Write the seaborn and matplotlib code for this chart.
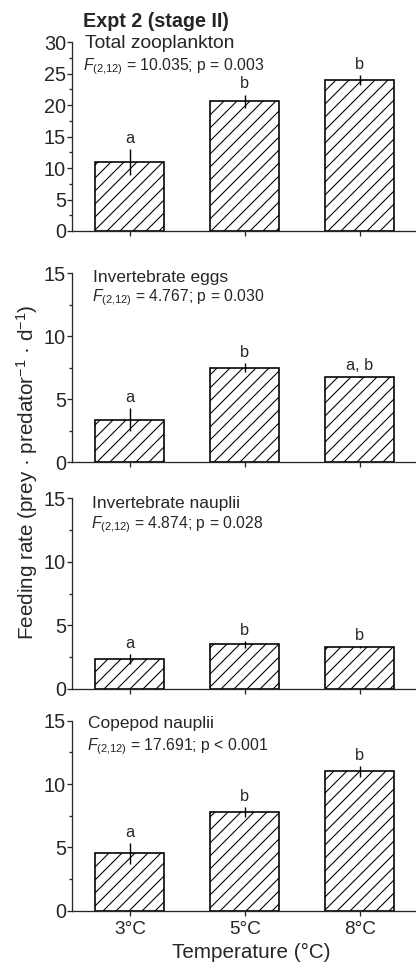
import numpy as np
import pandas as pd
import matplotlib
matplotlib.use("Agg")
import matplotlib.pyplot as plt
from matplotlib.ticker import MultipleLocator
import seaborn as sns

# ---------------- data ----------------
temps = ["3°C", "5°C", "8°C"]

total_mean = [11.0, 20.6, 24.0]
total_se = [2.1, 1.1, 0.8]
total_letters = ["a", "b", "b"]

eggs_mean = [3.36, 7.5, 6.78]
eggs_se = [0.92, 0.35, 0.05]
eggs_letters = ["a", "b", "a, b"]

invnaup_mean = [2.36, 3.52, 3.28]
invnaup_se = [0.38, 0.27, 0.08]
invnaup_letters = ["a", "b", "b"]

copnaup_mean = [4.53, 7.79, 11.0]
copnaup_se = [0.84, 0.42, 0.42]
copnaup_letters = ["a", "b", "b"]

panel_names = ["Total zooplankton", "Invertebrate eggs", "Invertebrate nauplii", "Copepod nauplii"]
f_values = ["10.035", "4.767", "4.874", "17.691"]
p_texts = ["p = 0.003", "p = 0.030", "p = 0.028", "p < 0.001"]
ymaxes = [30, 15, 15, 15]

# ---------------- style ----------------
sns.set_style("ticks")
plt.rcParams["font.family"] = ["Liberation Sans", "DejaVu Sans"]
plt.rcParams["mathtext.fontset"] = "custom"
plt.rcParams["mathtext.rm"] = "Liberation Sans"
plt.rcParams["mathtext.it"] = "Liberation Sans:italic"
plt.rcParams["hatch.linewidth"] = 0.5
plt.rcParams["hatch.color"] = "black"

W, H = 416, 963
DPI = 156
fig = plt.figure(figsize=(W / DPI, H / DPI), dpi=DPI)
fig.patch.set_facecolor("white")


def fx(x):
    return x / W


def fy(y):
    return 1 - y / H


# axes boxes (pixel top, pixel bottom)
boxes = [(42.3, 231.0), (273.3, 462.0), (498.3, 689.0), (720.7, 910.7)]
left_px = 72.0

means = [total_mean, eggs_mean, invnaup_mean, copnaup_mean]
ses = [total_se, eggs_se, invnaup_se, copnaup_se]
letters = [total_letters, eggs_letters, invnaup_letters, copnaup_letters]

label_pos = [(85, 48.3, 8.9), (93.3, 281.7, 8.0), (91.7, 508.3, 8.0), (88.3, 727.7, 8.0)]
f_pos = [(83, 70.7), (91.7, 301), (90.7, 528.3), (87.3, 750)]

axes = []
for i in range(4):
    top, bot = boxes[i]
    ax = fig.add_axes([fx(left_px), fy(bot), 1 - fx(left_px), (bot - top) / H])
    axes.append(ax)
    df = pd.DataFrame({"temp": temps, "rate": means[i]})
    sns.barplot(data=df, x="temp", y="rate", color="white", edgecolor="black",
                linewidth=0.75, hatch="////", width=0.6, errorbar=None,
                saturation=1, ax=ax, zorder=2)
    ax.errorbar(np.arange(len(temps)), means[i], yerr=ses[i], fmt="none",
                ecolor="black", elinewidth=0.65, capsize=0, zorder=3)
    for j, (m, s, lt) in enumerate(zip(means[i], ses[i], letters[i])):
        ax.annotate(lt, xy=(j, m + s), xytext=(0, 2.8), textcoords="offset points",
                    ha="center", va="baseline", fontsize=7.5)
    ax.set_ylim(0, ymaxes[i])
    ax.set_xlim(-0.504, 2.49)
    ax.yaxis.set_major_locator(MultipleLocator(5))
    ax.yaxis.set_minor_locator(MultipleLocator(2.5))
    ax.set_xlabel("")
    ax.set_ylabel("")
    for sp in ["top", "right"]:
        ax.spines[sp].set_visible(False)
    for sp in ["left", "bottom"]:
        ax.spines[sp].set_linewidth(0.6)
    ax.tick_params(axis="y", which="major", direction="out", length=2.3, width=0.6,
                   pad=0.5, labelsize=9.2)
    ax.tick_params(axis="y", which="minor", direction="out", length=1.4, width=0.6)
    ax.tick_params(axis="x", which="major", direction="out", length=2.3, width=0.6,
                   pad=2.5, labelsize=8.8)
    if i < 3:
        ax.tick_params(axis="x", labelbottom=False)
    ax.set_facecolor("white")

    lx, ly, lfs = label_pos[i]
    fig.text(fx(lx), fy(ly), panel_names[i], fontsize=lfs, ha="left", va="baseline")
    px_, py_ = f_pos[i]
    fig.text(fx(px_), fy(py_), r"$F_{(2{,}12)}$" + " = " + f_values[i] + "; " + p_texts[i],
             fontsize=7.3, ha="left", va="baseline")

fig.text(fx(83.3), fy(26.7), "Expt 2 (stage II)", fontsize=9.1, fontweight="bold",
         ha="left", va="baseline")
fig.text(fx(27), 0.51, "Feeding rate (prey · predator$^{-1}$ · d$^{-1}$)", fontsize=9.5,
         rotation=90, ha="center", va="center")
fig.text(fx(250.8), fy(958.3), "Temperature (°C)", fontsize=9.55, ha="center", va="baseline")

fig.savefig("out.png", dpi=DPI, facecolor="white")
